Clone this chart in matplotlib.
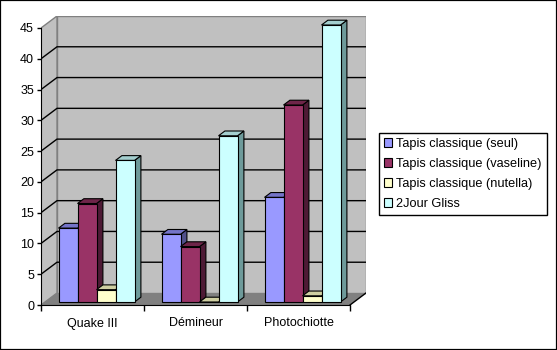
import matplotlib
matplotlib.use('Agg')
import matplotlib.pyplot as plt
from matplotlib.patches import Polygon, Patch, Rectangle

plt.rcParams['font.family'] = ['Liberation Sans', 'DejaVu Sans']

# données
categories = ['Quake III', 'Démineur', 'Photochiotte']
series = ['Tapis classique (seul)', 'Tapis classique (vaseline)',
          'Tapis classique (nutella)', '2Jour Gliss']
seul = [12, 11, 17]
vaseline = [16, 9, 32]
nutella = [2, 0, 1]
gliss = [23, 27, 45]
values = [seul, vaseline, nutella, gliss]
yticks = list(range(0, 50, 5))

# couleurs (face, dessus, côté)
front_colors = ['#9999FF', '#993366', '#FFFFCC', '#CCFFFF']
top_colors = ['#7474C8', '#6E2549', '#CFCFA2', '#A4CFCF']
side_colors = ['#50508A', '#4E1A35', '#9C9C78', '#6E9A9A']

W, H = 557, 350
fig = plt.figure(figsize=(W / 100, H / 100), dpi=100)
fig.patches.append(Rectangle((0, 0), 1, 1, transform=fig.transFigure,
                             fill=False, edgecolor='black', lw=1.6))

ymax = 45
n = len(categories)
# profondeur du mur en unités de données
DX = 16 / 103
DY = 12 / (277 / ymax)

ax = fig.add_axes([41 / W, 45 / H, 325 / W, 289 / H])
ax.set_xlim(0, n + DX)
ax.set_ylim(0, ymax + DY)
ax.set_facecolor('none')
for s in ['top', 'right']:
    ax.spines[s].set_visible(False)
ax.spines['left'].set_bounds(0, ymax)
ax.spines['bottom'].set_bounds(0, n)

# murs et sol
ax.add_patch(Polygon([(DX, DY), (n + DX, DY), (n + DX, ymax + DY), (DX, ymax + DY)],
                     closed=True, facecolor='#C0C0C0', edgecolor='#808080', lw=1, zorder=0))
ax.add_patch(Polygon([(0, 0), (0, ymax), (DX, ymax + DY), (DX, DY)],
                     closed=True, facecolor='#C0C0C0', edgecolor='#808080', lw=1, zorder=0))
for v in yticks[1:-1]:
    ax.plot([0, DX, n + DX], [v, v + DY, v + DY], color='black', lw=1, zorder=1)
ax.add_patch(Polygon([(0, 0), (n, 0), (n + DX, DY), (DX, DY)],
                     closed=True, facecolor='#808080', edgecolor='none', zorder=1))
ax.plot([n, n + DX], [0, DY], color='black', lw=1, zorder=1)

# barres
bw = 19 / 103
gap = (1 - len(series) * bw) / 2
f0, f1 = 0.25, 0.65
bdx, bdy = (f1 - f0) * DX, (f1 - f0) * DY
base = f0 * DY
k = 0
for i in range(n):
    for j in range(len(series)):
        x0 = i + gap + j * bw + f0 * DX
        v = values[j][i]
        top = base + v
        z = 3 + k * 0.01
        ax.add_patch(Polygon([(x0 + bw, base), (x0 + bw, top), (x0 + bw + bdx, top + bdy),
                              (x0 + bw + bdx, base + bdy)], closed=True,
                             facecolor=side_colors[j], edgecolor='black', lw=0.8, zorder=z))
        ax.add_patch(Polygon([(x0, top), (x0 + bw, top), (x0 + bw + bdx, top + bdy),
                              (x0 + bdx, top + bdy)], closed=True,
                             facecolor=top_colors[j], edgecolor='black', lw=0.8, zorder=z))
        bars = ax.bar([x0], [v], bw, bottom=base, align='edge',
                      color=front_colors[j], edgecolor='black', lw=0.8)
        for b in bars:
            b.set_zorder(z + 0.005)
        k += 1

ax.set_yticks(yticks)
ax.set_yticklabels([str(t) for t in yticks], fontsize=9)
ax.tick_params(axis='y', direction='out', length=3, width=1, pad=2)
ax.set_xticks(range(n + 1))
ax.set_xticklabels([''] * (n + 1))
ax.set_xticks([i + 0.5 for i in range(n)], minor=True)
ax.set_xticklabels(categories, minor=True, fontsize=9)
ax.tick_params(axis='x', which='major', direction='out', length=4, width=1)
ax.tick_params(axis='x', which='minor', length=0, pad=9)

handles = [Patch(facecolor=c, edgecolor='black', lw=0.8) for c in front_colors]
leg = fig.legend(handles, series, loc='center left', bbox_to_anchor=(379 / W, 1 - 174 / H),
                 fontsize=9.2, handlelength=0.65, handleheight=0.65, handletextpad=0.3,
                 labelspacing=0.62, borderpad=0.4, fancybox=False, framealpha=1,
                 edgecolor='black', borderaxespad=0)
leg.get_frame().set_linewidth(1)

fig.savefig('out.png', dpi=100)
